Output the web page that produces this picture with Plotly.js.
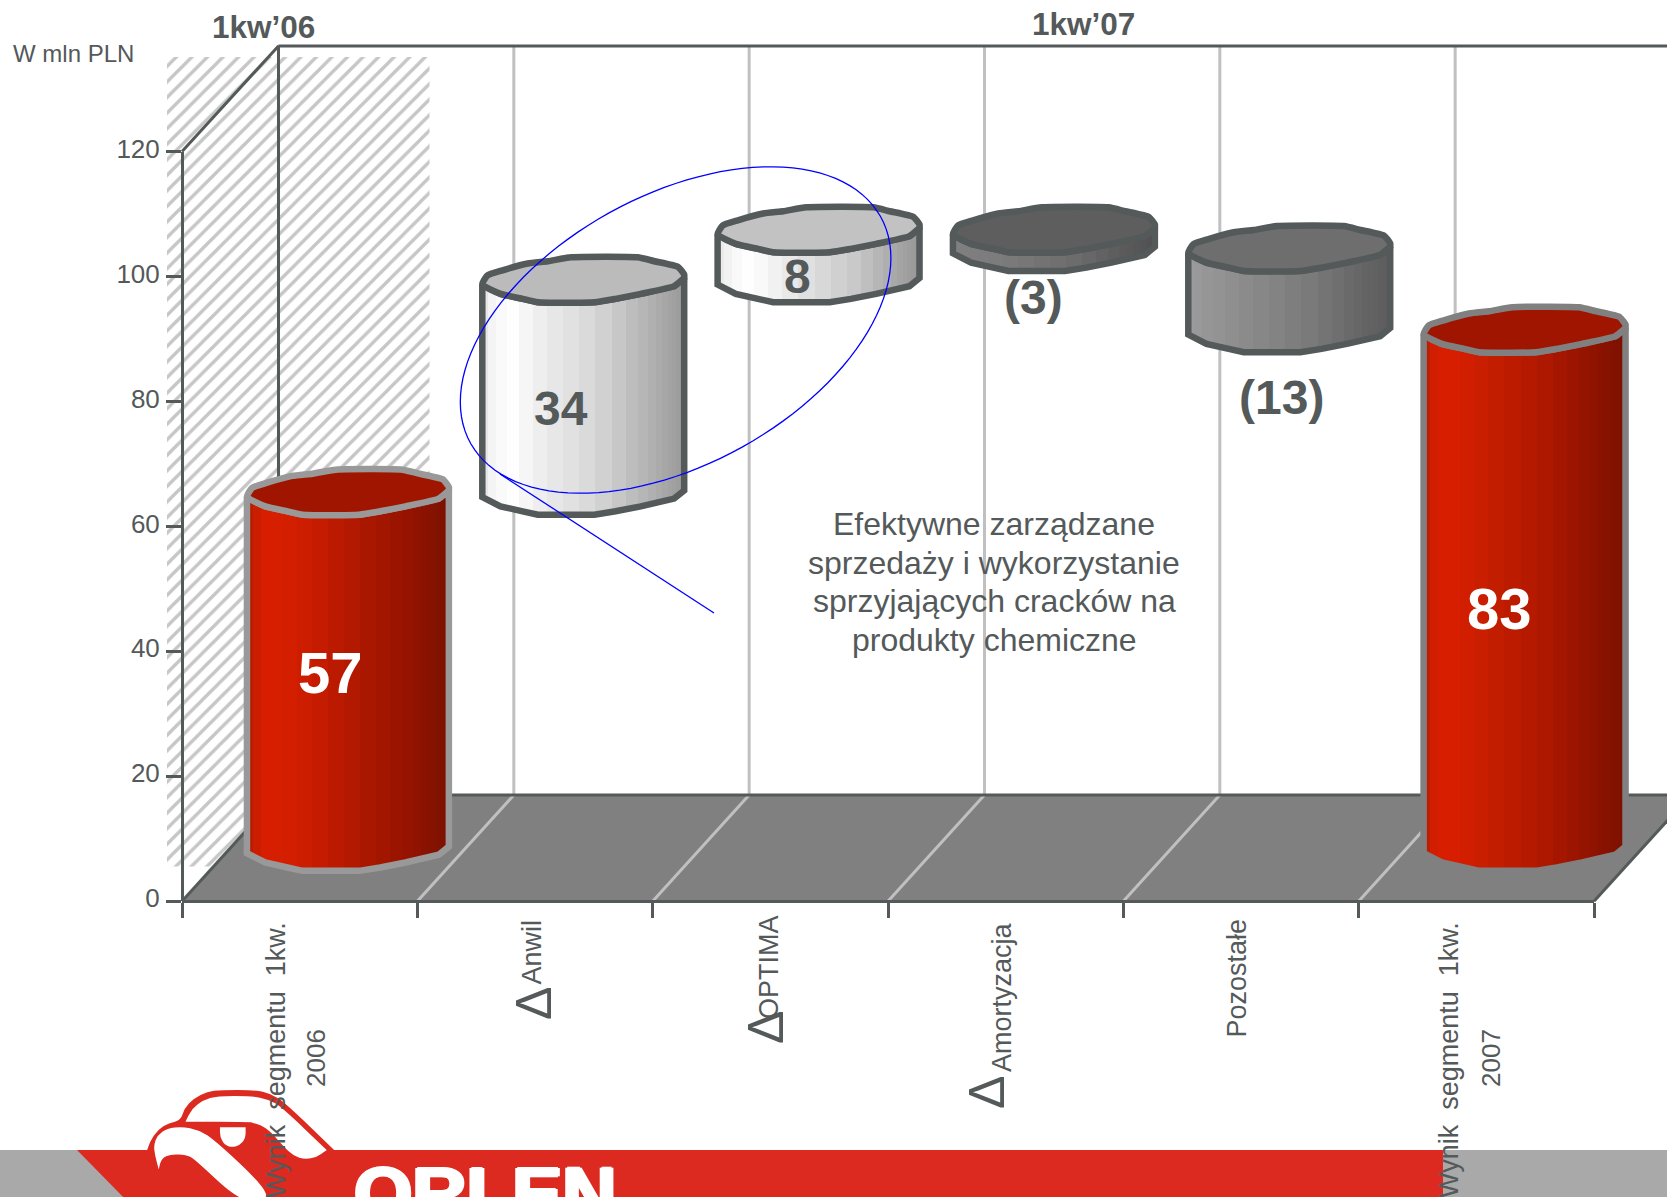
<!DOCTYPE html>
<html><head><meta charset="utf-8">
<script src="https://cdn.plot.ly/plotly-3.0.1.min.js"></script>
<style>html,body{margin:0;padding:0;background:#fff;overflow:hidden}</style>
</head><body><div id="chart" style="width:1667px;height:1197px"></div>
<script>
// ---- data ----
const categories = ["Wynik segmentu 1kw. 2006","Anwil","OPTIMA","Amortyzacja","Pozostałe","Wynik segmentu 1kw. 2007"];
const barStart = [0,57,91,99,96,0];
const barEnd   = [57,91,99,96,83,83];
const valueLabels = ["57","34","8","(3)","(13)","83"];
const yTicks = [0,20,40,60,80,100,120];
const groupTitles = ["1kw’06","1kw’07"];
const unitLabel = "W mln PLN";
const noteLines = ["Efektywne zarządzane","sprzedaży i wykorzystanie","sprzyjających cracków na","produkty chemiczne"];
const labelLine1 = ["Wynik\u00a0\u00a0segmentu\u00a0\u00a01kw.","Anwil","OPTIMA","Amortyzacja","Pozostałe","Wynik\u00a0\u00a0segmentu\u00a0\u00a01kw."];
const labelLine2 = ["2006","","","","","2007"];
const deltaMark = ["","Δ","Δ","Δ","",""];

// ---- geometry and style ----
const INK="#54595a", W=1667,H=1197, L=182,R=1594,T=151.5,B=901.3;
const PX=p=>p/W, PY=p=>1-p/H;
const XD=p=>(p-L)/((R-L)/6)-0.5, YD=p=>(B-p)/((B-T)/120);
const depthX=0.41, depthY=17, halfX=0.205, halfY=8.5, rx=0.429, ry=3.63;
const rimUpX=[-1,-.95,-.80,-.55,-.35,-.12,.54,.705,.94,1,1];
const rimUpY=[.22,-.18,-.41,-.71,-.81,-.985,-.985,-.81,-.56,-.22,-.07];
const rimLoX=[-1,-.82,-.60,-.45,.11,.32,.57,.90,1];
const rimLoY=[.22,.63,.85,1,1,.85,.63,.29,-.07];
const hex=c=>[1,3,5].map(i=>parseInt(c.substr(i,2),16));
const sample=(st,t)=>{for(let i=1;i<st.length;i++){if(t<=st[i][0]){const f=(t-st[i-1][0])/(st[i][0]-st[i-1][0]),a=hex(st[i-1][1]),b=hex(st[i][1]);
  return "rgb("+a.map((v,k)=>Math.round(v+(b[k]-v)*f)).join(",")+")";}}return st[st.length-1][1];};
const stripEdges=[0,.03,.07,.12,.18,.25,.32,.4,.48,.56,.64,.71,.77,.82,.86,.89,.92,.94,.96,.98,1];
const stepped=st=>{const o=[];for(let i=0;i<stripEdges.length-1;i++){const c=sample(st,(stripEdges[i]+stripEdges[i+1])/2);o.push([stripEdges[i],c],[stripEdges[i+1],c]);}return o;};
const styles=[
 {edge:"#999999",w:6.5,cap:"#a01500",body:[[0,"#b01a00"],[.04,"#c81e00"],[.1,"#d81e00"],[.22,"#d41e00"],[.55,"#b01800"],[.8,"#941300"],[1,"#7c1100"]]},
 {edge:INK,w:6.5,cap:"#bbbbbb",body:[[0,"#e0e0e0"],[.05,"#f4f4f4"],[.14,"#ffffff"],[.3,"#ececec"],[.55,"#d8d8d8"],[.75,"#bcbcbc"],[.9,"#a8a8a8"],[1,"#989898"]]},
 {edge:INK,w:6.5,cap:"#c2c2c2",body:[[0,"#e8e8e8"],[.08,"#f8f8f8"],[.16,"#ffffff"],[.4,"#e4e4e4"],[.7,"#c6c6c6"],[.88,"#a8a8a8"],[1,"#969696"]]},
 {edge:INK,w:6.5,cap:"#5e5e5e",body:[[0,"#808080"],[.3,"#7a7a7a"],[.6,"#6c6c6c"],[1,"#505050"]]},
 {edge:INK,w:6.5,cap:"#6e6e6e",body:[[0,"#9c9c9c"],[.3,"#8a8a8a"],[.6,"#7a7a7a"],[.85,"#666666"],[1,"#5c5c5c"]]},
 {edge:"#808080",w:6.5,cap:"#a01500",body:[[0,"#b81a00"],[.04,"#d01e00"],[.12,"#da1e00"],[.3,"#c81e00"],[.6,"#ae1800"],[.82,"#921300"],[1,"#7c1100"]]}
];

const base={type:"scatter",hoverinfo:"skip",showlegend:false,xaxis:"x",yaxis:"y"};
const traces=[];
// hatched backdrop
traces.push({...base,x:[XD(167),XD(429.5),XD(429.5),XD(167),XD(167)],y:[YD(57),YD(57),YD(866.5),YD(866.5),YD(57)],
  mode:"none",fill:"toself",fillcolor:"rgba(0,0,0,0)",
  fillpattern:{shape:"/",fgcolor:"#c6c6c6",bgcolor:"#ffffff",size:11,solidity:0.3}});
// floor
const x0=-0.5,x1=5.5;
traces.push({...base,x:[x0,x0+depthX,x1+depthX,x1,x0],y:[0,depthY,depthY,0,0],mode:"lines",fill:"toself",fillcolor:"#808080",line:{width:0,color:"#808080"}});
// back-wall grid + floor grid
const gx=[],gy=[],fx=[],fy=[];
for(let i=1;i<=5;i++){const b=x0+i;
  gx.push(b+depthX,b+depthX,null);gy.push(depthY,YD(46),null);
  fx.push(b,b+depthX,null);fy.push(0,depthY,null);}
traces.push({...base,x:gx,y:gy,mode:"lines",line:{color:"#c0c0c0",width:3}});
traces.push({...base,x:fx,y:fy,mode:"lines",line:{color:"#c0c0c0",width:3}});
// wall frame
traces.push({...base,mode:"lines",line:{color:INK,width:3},
  x:[x0,x0+depthX,x0+depthX,null,x0+depthX,x1+depthX+0.2,null,x0+depthX,x1+depthX,null,x0,x0+depthX,null,x1,x1+depthX],
  y:[120,YD(46),depthY,null,YD(46),YD(46),null,depthY,depthY,null,0,depthY,null,0,depthY]});
// cylinders
categories.forEach((c,i)=>{
  const cx=i+halfX, top=Math.max(barStart[i],barEnd[i])+halfY, bot=Math.min(barStart[i],barEnd[i])+halfY, s=styles[i];
  const bx=[],by=[];
  bx.push(cx+rimLoX[0]*rx);by.push(top-rimLoY[0]*ry);
  rimLoX.forEach((d,k)=>{bx.push(cx+d*rx);by.push(bot-rimLoY[k]*ry);});
  rimLoX.slice().reverse().forEach((d,k)=>{bx.push(cx+d*rx);by.push(top-rimLoY[rimLoY.length-1-k]*ry);});
  traces.push({...base,name:c,x:bx,y:by,mode:"lines",fill:"toself",line:{color:s.edge,width:s.w,simplify:false},
    fillgradient:{type:"horizontal",colorscale:stepped(s.body)}});
  const tx=[],ty=[];
  rimUpX.forEach((d,k)=>{tx.push(cx+d*rx);ty.push(top-rimUpY[k]*ry);});
  rimLoX.slice().reverse().forEach((d,k)=>{tx.push(cx+d*rx);ty.push(top-rimLoY[rimLoY.length-1-k]*ry);});
  traces.push({...base,x:tx,y:ty,mode:"lines",fill:"toself",fillcolor:s.cap,line:{color:s.edge,width:s.w,simplify:false,shape:"spline",smoothing:0.5}});
});
// value carrier on the visible axes
traces.push({type:"scatter",xaxis:"x2",yaxis:"y2",x:categories.map((c,i)=>i),y:barEnd,mode:"none",hoverinfo:"skip",showlegend:false});

// annotations
const ann=[];
const FONT="Liberation Sans, Arial, sans-serif";
const labelPosX=[.13,1.11,2.115,3.12,4.17,5.10], labelPosY=[36.6,78.9,100,96.7,80.6,46.9], labelSize=[58,48,48,48,48,58], labelColor=["#fff",INK,INK,INK,INK,"#fff"];
valueLabels.forEach((t,i)=>ann.push({text:"<b>"+t+"</b>",x:labelPosX[i],y:labelPosY[i],xref:"x",yref:"y",showarrow:false,xanchor:"center",yanchor:"middle",font:{family:FONT,size:labelSize[i],color:labelColor[i]}}));
const line1X=[276,531,769,1002,1236,1449], line1Top=[920,918,913,920,917,920], line2X=[316,0,0,0,0,1491];
labelLine1.forEach((t,i)=>{
  ann.push({text:t,x:PX(line1X[i]),y:PY(line1Top[i]),xref:"paper",yref:"paper",yanchor:"top",xanchor:"center",textangle:-90,showarrow:false,font:{family:FONT,size:27,color:INK}});
  if(labelLine2[i]) ann.push({text:labelLine2[i],x:PX(line2X[i]),y:PY(1027),xref:"paper",yref:"paper",yanchor:"top",xanchor:"center",textangle:-90,showarrow:false,font:{family:FONT,size:26,color:INK}});
});
const deltaX=[0,534,766,987,0,0], deltaY=[0,1004,1028,1093,0,0];
deltaMark.forEach((t,i)=>{ if(t) ann.push({text:t,x:PX(deltaX[i]),y:PY(deltaY[i]),xref:"paper",yref:"paper",xanchor:"center",yanchor:"middle",textangle:-90,showarrow:false,font:{family:FONT,size:50,color:INK}}); });
const paperText=(t,px,py,size,extra)=>ann.push({text:t,x:PX(px),y:PY(py),xref:"paper",yref:"paper",xanchor:"center",yanchor:"middle",showarrow:false,font:{family:FONT,size:size,color:INK},...extra});
paperText("<b>"+groupTitles[0]+"</b>",263.5,27,31.5);
paperText("<b>"+groupTitles[1]+"</b>",1083.5,24,31.5);
paperText(unitLabel,11,53.5,24,{xanchor:"left"});
noteLines.forEach((t,i)=>paperText(t,994,524+38.7*i,32));
ann.push({text:"<b>ORLEN</b>",x:PX(485),y:PY(1148.5),xref:"paper",yref:"paper",xanchor:"center",yanchor:"top",showarrow:false,font:{family:FONT,size:75,color:"#fff",shadow:"2px 0 0 #fff, -2px 0 0 #fff, 0 1px 0 #fff, 0 -1px 0 #fff"}});

// shapes: callout and logo
const pts=a=>a.map(p=>[PX(p[0]),PY(p[1])]);
const poly=a=>"M"+pts(a).map(p=>p.join(",")).join("L")+"Z";
const zl=a=>a.map(p=>[60+p[0]/2.613,1070+p[1]/3]);
const sm=a=>{const q=pts(a),n=q.length,m=(u,v)=>[(u[0]+v[0])/2,(u[1]+v[1])/2];let s="M"+m(q[n-1],q[0]).join(",");
  for(let i=0;i<n;i++){s+="Q"+q[i].join(",")+" "+m(q[i],q[(i+1)%n]).join(",");}return s+"Z";};
const ell=[];for(let k=0;k<120;k++){const t=k/120*2*Math.PI;ell.push([675.6+215.3*Math.cos(t),330-72*Math.cos(t)+146.5*Math.sin(t)]);}
const sh=[];
const paperShape=(path,fill,line)=>sh.push({type:"path",xref:"paper",yref:"paper",path,fillcolor:fill,layer:"above",line:line||{width:0}});
paperShape(poly(ell),"rgba(0,0,0,0)",{color:"#0000ff",width:1.3});
sh.push({type:"line",xref:"paper",yref:"paper",x0:PX(500),y0:PY(474),x1:PX(714),y1:PY(613),line:{color:"#0000ff",width:1.3},layer:"above"});
paperShape(poly([[0,1150],[W,1150],[W,H+5],[0,H+5]]),"#a9a9a9");
paperShape(poly([[77,1150],[1443,1150],[1443,H+5],[128,H+5]]),"#dc2a20");
const eagleOut=[[225,250],[225,250],[235,215],[255,180],[285,158],[315,152],[325,115],[350,85],[385,65],[420,60],[510,60],[550,70],[590,100],[725,250],[725,250],[725,250]];
const eagleUp=[[328,155],[328,155],[345,115],[375,90],[410,78],[500,78],[545,88],[580,112],[697,240],[697,240],[670,262],[640,268],[610,258],[585,230],[550,185],[525,165],[500,158],[500,156]];
const eagleEye=[[418,172],[418,172],[485,172],[485,172],[485,205],[470,225],[450,232],[430,225],[418,200]];
const eagleBeak=[[258,298],[258,298],[248,255],[245,225],[255,195],[280,175],[320,170],[360,180],[400,205],[530,345],[545,395],[470,395],[350,265],[330,255],[290,252],[265,265]];
paperShape(sm(zl(eagleOut)),"#dc2a20");
paperShape(sm(zl(eagleUp)),"#ffffff");
paperShape(sm(zl(eagleEye)),"#ffffff");
paperShape(sm(zl(eagleBeak)),"#ffffff");

const layout={width:W,height:H,margin:{l:0,r:0,t:0,b:0,pad:0},paper_bgcolor:"#fff",plot_bgcolor:"rgba(0,0,0,0)",showlegend:false,hovermode:false,
 font:{family:FONT,color:INK},
 xaxis:{domain:[0,1],range:[XD(0),XD(W)],visible:false,fixedrange:true},
 yaxis:{domain:[0,1],range:[YD(H),YD(0)],visible:false,fixedrange:true},
 xaxis2:{anchor:"free",position:1-B/H,domain:[L/W,R/W],type:"linear",range:[-0.5,5.5],tickmode:"array",tickvals:[-.5,.5,1.5,2.5,3.5,4.5,5.5],showticklabels:false,ticks:"outside",ticklen:15,tickwidth:3,tickcolor:INK,showline:true,linecolor:INK,linewidth:3,showgrid:false,zeroline:false,fixedrange:true},
 yaxis2:{anchor:"free",position:L/W,domain:[1-B/H,1-T/H],type:"linear",range:[0,120],tickmode:"array",tickvals:yTicks,ticks:"outside",ticklen:15,tickwidth:3,tickcolor:INK,showline:true,linecolor:INK,linewidth:3,showgrid:false,zeroline:false,fixedrange:true,ticklabelshift:-3,ticklabelstandoff:1,tickfont:{family:FONT,size:26,color:INK}},
 annotations:ann,shapes:sh};
Plotly.newPlot("chart",traces,layout,{staticPlot:true,displayModeBar:false});
</script></body></html>
